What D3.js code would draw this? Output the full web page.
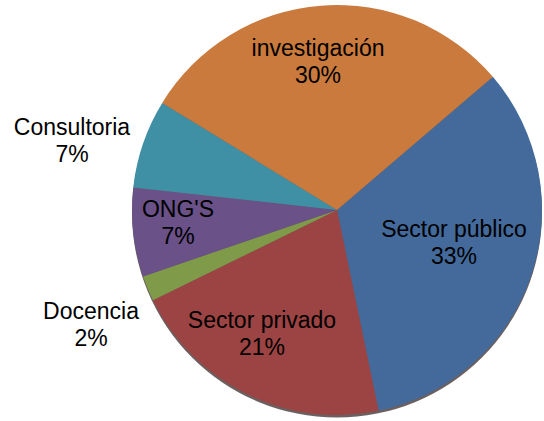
<!DOCTYPE html>
<html>
<head>
<meta charset="utf-8">
<script src="https://cdn.jsdelivr.net/npm/d3@7"></script>
<style>
  body { margin: 0; background: #fff; }
  svg text { font-family: "Liberation Sans", Arial, sans-serif; fill: #000; }
</style>
</head>
<body>
<svg width="544" height="421"></svg>
<script>
const categories = ["Sector público", "Sector privado", "Docencia", "ONG'S", "Consultoria", "investigación"];
const values = [33, 21, 2, 7, 7, 30];
const colors = ["#436a9b", "#9c4343", "#7f9b49", "#6a5187", "#3f8fa5", "#c97a3c"];

const svg = d3.select("svg");
const cx = 337, cy = 210, radius = 205;
const fontSize = 23;

const data = categories.map((c, i) => ({ name: c, value: values[i], color: colors[i] }));

const startAngle = 49.5 * Math.PI / 180;
const pie = d3.pie()
  .sort(null)
  .value(d => d.value)
  .startAngle(startAngle)
  .endAngle(startAngle + 2 * Math.PI);

const arc = d3.arc().innerRadius(0).outerRadius(radius);

const g = svg.append("g").attr("transform", `translate(${cx},${cy})`);

// soft shadow at the bottom edge
g.append("circle")
  .attr("cx", 0)
  .attr("cy", 2.5)
  .attr("r", radius)
  .attr("fill", "#3a2a2a")
  .attr("opacity", 0.75);

const arcs = pie(data);

g.selectAll("path.slice")
  .data(arcs)
  .enter()
  .append("path")
  .attr("class", "slice")
  .attr("d", arc)
  .attr("fill", d => d.data.color);

// label positions (label center x, first baseline y)
const labelPos = {
  "Sector público": [454, 237],
  "Sector privado": [262, 328],
  "Docencia": [91, 319],
  "ONG'S": [178, 217],
  "Consultoria": [72, 135],
  "investigación": [318, 56]
};

const labels = svg.selectAll("g.label")
  .data(arcs)
  .enter()
  .append("g")
  .attr("class", "label")
  .attr("transform", d => `translate(${labelPos[d.data.name][0]},${labelPos[d.data.name][1]})`);

labels.append("text")
  .attr("text-anchor", "middle")
  .style("font-size", fontSize + "px")
  .text(d => d.data.name);

labels.append("text")
  .attr("text-anchor", "middle")
  .attr("y", 27)
  .style("font-size", fontSize + "px")
  .text(d => d.data.value + "%");
</script>
</body>
</html>
